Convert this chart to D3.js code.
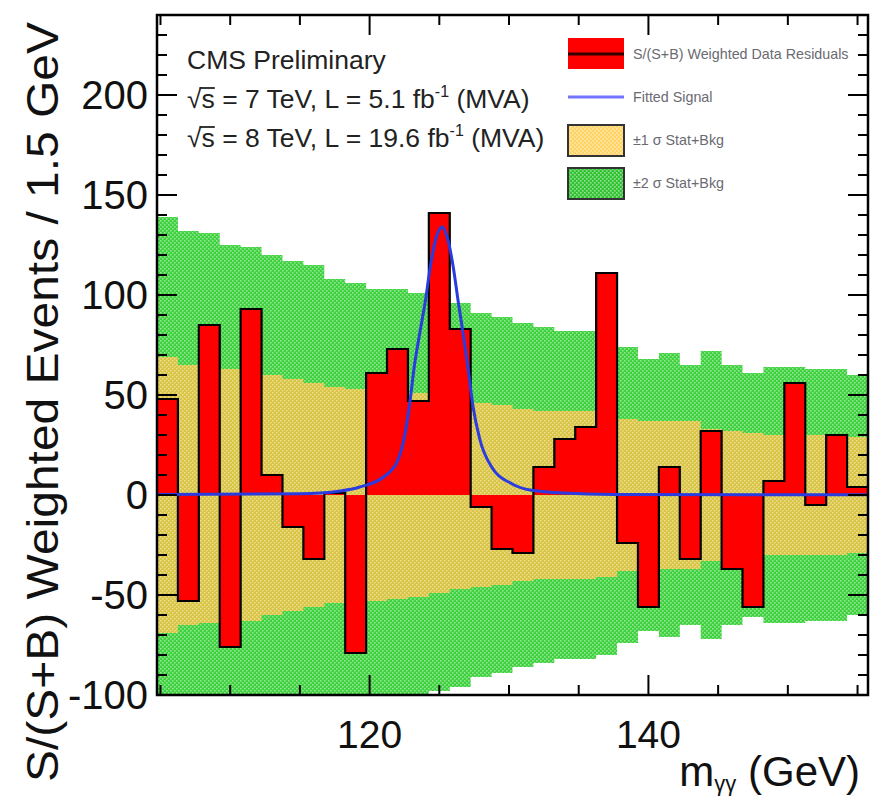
<!DOCTYPE html>
<html>
<head>
<meta charset="utf-8">
<script src="https://cdn.jsdelivr.net/npm/d3@7"></script>
<style>
    body { margin: 0; background: #fff; }
    text { font-family: "Liberation Sans", Arial, Helvetica, sans-serif; }
</style>
</head>
<body>
<script>
// values (1.5 GeV bins starting at binStart)
const binStart = 104.75;
const binWidth = 1.5;
const residuals = [48, -53, 85, -76, 93, 10, -16, -32, 1, -79, 61, 73, 47, 141, 83, -6, -27, -29, 14, 28, 34, 111, -24, -56, 14, -32, 32, -37, -56, 7, 56, -5, 30, 4];
const sigma1 = [69, 65, 64, 63, 63, 60, 58, 56, 54, 53, 53, 52, 51, 49, 47, 46, 45, 43, 42, 42, 42, 41, 38, 37, 37, 37, 33, 32, 31, 30, 30, 30, 30, 29];
const sigma2 = [139, 132, 131, 125, 124, 120, 117, 115, 108, 106, 103, 103, 101, 98, 96, 91, 89, 86, 84, 82, 82, 80, 74, 68, 71, 65, 72, 65, 61, 64, 64, 63, 63, 60];

// fitted signal curve
const signalMass = [104.75, 115.0, 117.9, 119.3, 121.0, 122.0, 122.55, 122.9, 123.2, 123.6, 124.0, 124.35, 124.75, 125.2, 125.6, 126.0, 126.35, 126.7, 127.05, 127.4, 127.9, 128.85, 130.1, 131.5, 133.9, 137.5, 155.75];
const signalValue = [0.3, 0.6, 2, 4, 9, 17, 31, 47, 64, 81, 97, 114, 128, 134, 128, 114, 97, 81, 64, 45, 28, 13, 6, 2.5, 1, 0.3, 0.1];

const xMajorTicks = [120, 140];
const yMajorTicks = [-100, -50, 0, 50, 100, 150, 200];
const legendLabels = ["S/(S+B) Weighted Data Residuals", "Fitted Signal", "\u00b11 \u03c3 Stat+Bkg", "\u00b12 \u03c3 Stat+Bkg"];

const width = 871;
const height = 800;
const plot = { left: 157, right: 868, top: 15, bottom: 695 };

const svg = d3.select("body").append("svg").attr("width", width).attr("height", height);

const x = d3.scaleLinear().domain([binStart, binStart + binWidth * residuals.length]).range([plot.left, plot.right]);
const y = d3.scaleLinear().domain([-100, 240]).range([plot.bottom, plot.top]);

// patterns for the dotted ROOT fills
const defs = svg.append("defs");
function dotPattern(id, base, dot) {
    const p = defs.append("pattern").attr("id", id).attr("patternUnits", "userSpaceOnUse").attr("width", 4).attr("height", 4);
    p.append("rect").attr("width", 4).attr("height", 4).attr("fill", base);
    p.append("rect").attr("x", 0).attr("y", 0).attr("width", 1.6).attr("height", 1.6).attr("fill", dot);
    p.append("rect").attr("x", 2).attr("y", 2).attr("width", 1.6).attr("height", 1.6).attr("fill", dot);
}
dotPattern("yellowFill", "#d8c445", "#ecdc8a");
dotPattern("greenFill", "#3fd03f", "#8ee88e");
dotPattern("yellowLeg", "#ffd466", "#ffe9a8");
dotPattern("greenLeg", "#33c233", "#8fe28f");

defs.append("clipPath").attr("id", "plotClip")
    .append("rect").attr("x", plot.left).attr("y", plot.top)
    .attr("width", plot.right - plot.left).attr("height", plot.bottom - plot.top);

// step points: one per bin low edge plus the last high edge
const edges = d3.range(residuals.length + 1).map((i) => binStart + i * binWidth);
const stepped = (arr) => edges.map((e, i) => ({ m: e, v: arr[Math.min(i, arr.length - 1)] }));

const g = svg.append("g").attr("clip-path", "url(#plotClip)");

// bands
const band = (arr) => d3.area().curve(d3.curveStepAfter)
    .x((d) => x(d.m)).y0((d) => y(-d.v)).y1((d) => y(d.v))(stepped(arr));
g.append("path").attr("d", band(sigma2)).attr("fill", "url(#greenFill)");
g.append("path").attr("d", band(sigma1)).attr("fill", "url(#yellowFill)");

// residual histogram
const resPts = stepped(residuals);
g.append("path")
    .attr("d", d3.area().curve(d3.curveStepAfter).x((d) => x(d.m)).y0(y(0)).y1((d) => y(d.v))(resPts))
    .attr("fill", "#ff0000");
g.append("path")
    .attr("d", d3.line().curve(d3.curveStepAfter).x((d) => x(d.m)).y((d) => y(d.v))(resPts))
    .attr("fill", "none").attr("stroke", "#000").attr("stroke-width", 2.2);

// fitted signal
g.append("path")
    .attr("d", d3.line().curve(d3.curveMonotoneX).x((d, i) => x(signalMass[i])).y((d) => y(d))(signalValue))
    .attr("fill", "none").attr("stroke", "#2a3ce0").attr("stroke-width", 3);

// frame and ticks on all four sides
const axes = svg.append("g").attr("stroke", "#000");
axes.append("rect").attr("x", plot.left).attr("y", plot.top)
    .attr("width", plot.right - plot.left).attr("height", plot.bottom - plot.top)
    .attr("fill", "none").attr("stroke-width", 2.5);

d3.range(105, 156, 5).forEach((t) => {
    const len = xMajorTicks.includes(t) ? 20 : 10;
    axes.append("line").attr("x1", x(t)).attr("x2", x(t)).attr("y1", plot.bottom).attr("y2", plot.bottom - len).attr("stroke-width", 2);
    axes.append("line").attr("x1", x(t)).attr("x2", x(t)).attr("y1", plot.top).attr("y2", plot.top + len).attr("stroke-width", 2);
});
d3.range(-100, 241, 10).forEach((t) => {
    const len = yMajorTicks.includes(t) ? 20 : 10;
    axes.append("line").attr("x1", plot.left).attr("x2", plot.left + len).attr("y1", y(t)).attr("y2", y(t)).attr("stroke-width", 2);
    axes.append("line").attr("x1", plot.right).attr("x2", plot.right - len).attr("y1", y(t)).attr("y2", y(t)).attr("stroke-width", 2);
});

// tick labels
svg.append("g").selectAll("text").data(xMajorTicks).enter().append("text")
    .attr("x", (d) => x(d)).attr("y", 748).attr("text-anchor", "middle")
    .attr("font-size", 39).attr("fill", "#111").text((d) => d);
svg.append("g").selectAll("text").data(yMajorTicks).enter().append("text")
    .attr("x", 148).attr("y", (d) => y(d) + 14).attr("text-anchor", "end")
    .attr("font-size", 40).attr("fill", "#111").text((d) => d);

// axis titles
svg.append("text")
    .attr("transform", "translate(58,22) rotate(-90)")
    .attr("text-anchor", "end").attr("font-size", 45).attr("fill", "#111")
    .attr("textLength", 760).attr("lengthAdjust", "spacingAndGlyphs")
    .text("S/(S+B) Weighted Events / 1.5 GeV");

const xt = svg.append("text").attr("x", 860).attr("y", 786).attr("text-anchor", "end")
    .attr("font-size", 42).attr("fill", "#111");
xt.append("tspan").text("m");
xt.append("tspan").attr("font-size", 22).attr("dy", 5).text("\u03b3\u03b3");
xt.append("tspan").attr("dy", -5).text(" (GeV)");

// CMS labels
svg.append("text").attr("x", 187).attr("y", 69).attr("font-size", 26.5).attr("fill", "#222").text("CMS Preliminary");
[["7", "5.1", 108], ["8", "19.6", 147]].forEach(([e, lumi, yy]) => {
    const t = svg.append("text").attr("x", 187).attr("y", yy).attr("font-size", 26.5).attr("fill", "#222");
    t.append("tspan").text("\u221a");
    t.append("tspan").text("s");
    t.append("tspan").text(` = ${e} TeV, L = ${lumi} fb`);
    t.append("tspan").attr("font-size", 16).attr("dy", -11).text("-1");
    t.append("tspan").attr("dy", 11).text(" (MVA)");
    const node = t.node();
    const a = node.getStartPositionOfChar(1).x - 2;
    const b = node.getEndPositionOfChar(1).x;
    svg.append("line").attr("x1", a).attr("x2", b).attr("y1", yy - 20).attr("y2", yy - 20)
        .attr("stroke", "#222").attr("stroke-width", 1.8);
});

// legend
const leg = svg.append("g");
const sx = 568, sw = 56, sh = 31;
const rowY = [54, 97, 140, 183];
leg.append("rect").attr("x", sx).attr("y", rowY[0] - 16).attr("width", sw).attr("height", sh).attr("fill", "#ff0000");
leg.append("line").attr("x1", sx).attr("x2", sx + sw).attr("y1", rowY[0]).attr("y2", rowY[0]).attr("stroke", "#300").attr("stroke-width", 3);
leg.append("line").attr("x1", sx).attr("x2", sx + sw).attr("y1", rowY[1]).attr("y2", rowY[1]).attr("stroke", "#7474ff").attr("stroke-width", 3);
leg.append("rect").attr("x", sx).attr("y", rowY[2] - 15).attr("width", sw).attr("height", sh)
    .attr("fill", "url(#yellowLeg)").attr("stroke", "#333").attr("stroke-width", 2);
leg.append("rect").attr("x", sx).attr("y", rowY[3] - 15).attr("width", sw).attr("height", sh)
    .attr("fill", "url(#greenLeg)").attr("stroke", "#333").attr("stroke-width", 2);
leg.selectAll("text.lab").data(legendLabels).enter().append("text").attr("class", "lab")
    .attr("x", 633).attr("y", (d, i) => rowY[i] + 5).attr("font-size", 14.3).attr("fill", "#6a6a72")
    .text((d) => d);
</script>
</body>
</html>
